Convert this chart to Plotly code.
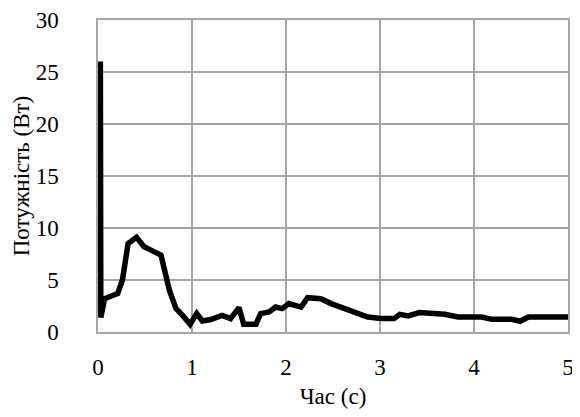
import plotly.graph_objects as go

time_s = [0.025, 0.03, 0.07, 0.12, 0.21, 0.26, 0.32, 0.41, 0.49, 0.58, 0.67, 0.76, 0.83, 0.90,
          0.98, 1.05, 1.11, 1.20, 1.27, 1.32, 1.41, 1.50, 1.55, 1.68, 1.73, 1.82, 1.89, 1.96,
          2.03, 2.16, 2.23, 2.37, 2.48, 2.59, 2.73, 2.87, 3.01, 3.15, 3.21, 3.30, 3.42, 3.69,
          3.83, 4.08, 4.19, 4.40, 4.49, 4.58, 5.0]
power_w = [26.0, 1.4, 3.2, 3.4, 3.7, 5.0, 8.5, 9.1, 8.2, 7.8, 7.4, 4.0, 2.25, 1.6,
           0.74, 1.77, 1.06, 1.2, 1.44, 1.6, 1.29, 2.35, 0.74, 0.74, 1.77, 1.92, 2.4, 2.25,
           2.73, 2.4, 3.3, 3.2, 2.73, 2.4, 1.92, 1.44, 1.29, 1.29, 1.7, 1.54, 1.87, 1.7,
           1.44, 1.44, 1.22, 1.22, 1.03, 1.44, 1.44]

x_ticks = [0, 1, 2, 3, 4, 5]
y_ticks = [0, 5, 10, 15, 20, 25, 30]

font_family = "Liberation Serif"

fig = go.Figure()
fig.add_trace(go.Scatter(x=time_s, y=power_w, mode="lines",
                         line=dict(color="black", width=5.5), showlegend=False))

# page body has an 8px default margin, so the figure is sized to fill the rest
fig.update_layout(
    width=572, height=409,
    margin=dict(l=90, r=12, t=12, b=85),
    paper_bgcolor="white", plot_bgcolor="white",
    font=dict(family=font_family, size=23, color="black"),
)
fig.update_xaxes(
    range=[0, 5], tickvals=x_ticks, showgrid=True, gridcolor="#a6a6a6", gridwidth=1.5,
    showline=True, linecolor="#a6a6a6", linewidth=1.5, mirror=True, zeroline=False,
    ticks="", ticklabelstandoff=14, tickfont=dict(size=23),
    title=dict(text="Час (с)", standoff=9, font=dict(size=23)), automargin=False,
)
fig.update_yaxes(
    range=[0, 30], tickvals=y_ticks, showgrid=True, gridcolor="#a6a6a6", gridwidth=1.5,
    showline=True, linecolor="#a6a6a6", linewidth=1.5, mirror=True, zeroline=False,
    ticks="", ticklabelstandoff=33, tickfont=dict(size=23),
    title=dict(text="Потужність (Вт)", standoff=0, font=dict(size=23)), automargin=False,
)
fig.write_html("out.html")
